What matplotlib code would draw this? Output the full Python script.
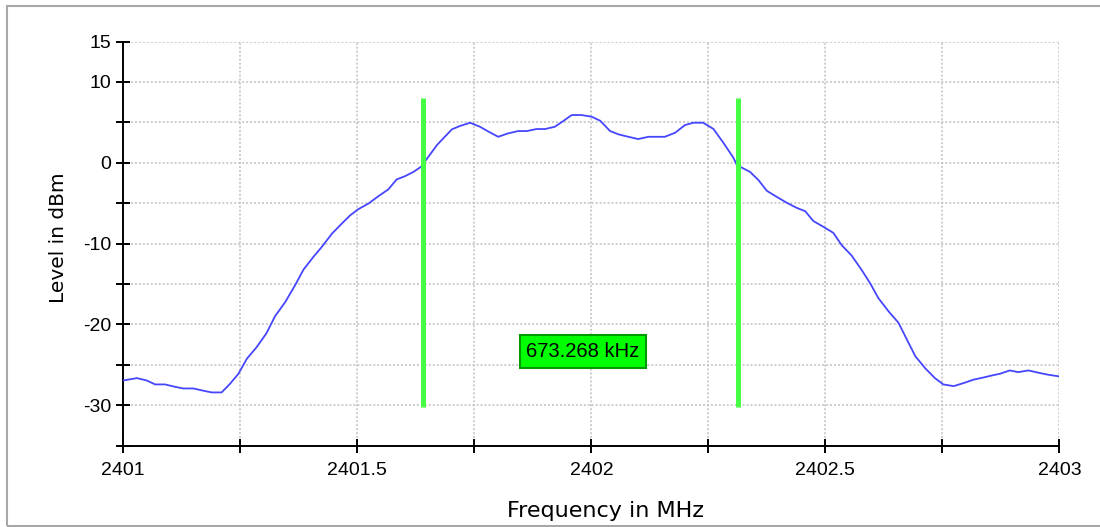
import numpy as np
import matplotlib.pyplot as plt
from matplotlib.patches import Rectangle

# spectrum trace
freq_mhz = [2401.000, 2401.029, 2401.050, 2401.068, 2401.089, 2401.107, 2401.128, 2401.150,
            2401.171, 2401.189, 2401.210, 2401.228, 2401.246, 2401.264, 2401.285, 2401.306,
            2401.324, 2401.346, 2401.367, 2401.385, 2401.406, 2401.424, 2401.446, 2401.467,
            2401.485, 2401.502, 2401.524, 2401.545, 2401.566, 2401.584, 2401.602, 2401.620,
            2401.638, 2401.645, 2401.670, 2401.702, 2401.719, 2401.741, 2401.762, 2401.783,
            2401.801, 2401.822, 2401.844, 2401.862, 2401.883, 2401.901, 2401.922, 2401.940,
            2401.958, 2401.979, 2402.001, 2402.019, 2402.040, 2402.058, 2402.079, 2402.100,
            2402.122, 2402.140, 2402.157, 2402.179, 2402.200, 2402.218, 2402.239, 2402.261,
            2402.282, 2402.303, 2402.311, 2402.339, 2402.357, 2402.375, 2402.396, 2402.418,
            2402.439, 2402.457, 2402.474, 2402.496, 2402.517, 2402.535, 2402.556, 2402.578,
            2402.596, 2402.613, 2402.635, 2402.656, 2402.674, 2402.692, 2402.713, 2402.734,
            2402.752, 2402.774, 2402.795, 2402.816, 2402.838, 2402.856, 2402.873, 2402.894,
            2402.912, 2402.934, 2402.955, 2402.976, 2403.000]
level_dbm = [-26.93, -26.64, -26.93, -27.42, -27.42, -27.67, -27.92, -27.92,
             -28.20, -28.41, -28.41, -27.34, -26.10, -24.24, -22.80, -21.07,
             -19.00, -17.22, -15.15, -13.21, -11.65, -10.41, -8.75, -7.51,
             -6.48, -5.74, -5.03, -4.13, -3.30, -2.06, -1.65, -1.12,
             -0.41, 0.21, 2.19, 4.14, 4.55, 4.96, 4.46, 3.77,
             3.22, 3.64, 3.93, 3.93, 4.18, 4.18, 4.46, 5.17,
             5.91, 5.91, 5.70, 5.20, 3.93, 3.52, 3.22, 2.94,
             3.22, 3.22, 3.22, 3.72, 4.67, 4.96, 4.96, 4.18,
             2.48, 0.67, -0.29, -1.12, -2.14, -3.47, -4.21, -4.96,
             -5.58, -5.99, -7.19, -7.93, -8.67, -10.20, -11.47, -13.30,
             -14.94, -16.73, -18.38, -19.78, -21.85, -23.92, -25.40, -26.64,
             -27.42, -27.63, -27.26, -26.84, -26.56, -26.31, -26.10, -25.69,
             -25.90, -25.69, -25.97, -26.22, -26.43]

# bandwidth markers
marker_freqs = [2401.641, 2402.314268]
marker_bottom = -30.2
marker_top = 8.0
bw_label = '673.268 kHz'
bw_label_pos = (2401.982, -23.35)

xticks = [2401, 2401.25, 2401.5, 2401.75, 2402, 2402.25, 2402.5, 2402.75, 2403]
xticklabels = ['2401', '', '2401.5', '', '2402', '', '2402.5', '', '2403']
yticks = [15, 10, 5, 0, -5, -10, -15, -20, -25, -30, -35]
yticklabels = ['15', '10', '', '0', '', '-10', '', '-20', '', '-30', '']

fig = plt.figure(figsize=(11, 5.27), dpi=100)
ax = fig.add_axes([0.1121, 0.1543, 0.851, 0.7668])

ax.plot(freq_mhz, level_dbm, color='#4646FF', lw=1.3, zorder=3)
ax.vlines(marker_freqs, marker_bottom, marker_top, color='#44FF44', lw=3.6, zorder=4)
ax.text(bw_label_pos[0], bw_label_pos[1], bw_label, ha='center', va='center',
        fontsize=14.5, family=['Liberation Sans', 'DejaVu Sans'], zorder=5,
        bbox=dict(boxstyle='square,pad=0.33', fc='#00FF00', ec='#009900', lw=1.5))

ax.set_xlim(2401, 2403)
ax.set_ylim(-35, 15)
ax.set_xticks(xticks)
ax.set_xticklabels(xticklabels)
ax.set_yticks(yticks)
ax.set_yticklabels(yticklabels)

for lab in ax.get_xticklabels() + ax.get_yticklabels():
    lab.set_family(['Liberation Sans', 'DejaVu Sans'])
    lab.set_fontsize(14)

ax.tick_params(axis='both', direction='inout', length=10, width=1.4, color='black')
ax.tick_params(axis='x', pad=6.5)
ax.tick_params(axis='y', pad=3.6)

ax.grid(True, color='#C0C0C0', lw=1.1, linestyle=(0, (1.3, 1.3)), zorder=0)
ax.set_axisbelow(True)

for s in ['top', 'right']:
    ax.spines[s].set_visible(False)
for s in ['left', 'bottom']:
    ax.spines[s].set_linewidth(1.4)

ax.set_ylabel('Level in dBm', fontsize=14.5)
ax.yaxis.set_label_coords(-0.059, 0.515)
ax.set_xlabel('Frequency in MHz', fontsize=16)
ax.xaxis.set_label_coords(0.5146, -0.137)

# window frame (left, top and bottom edges only)
fig.add_artist(Rectangle((7 / 1100, 1 - 526 / 527), 1.2, 520 / 527, transform=fig.transFigure,
                         fill=False, ec='#A8A8A8', lw=1.5, clip_on=False))

fig.savefig('out.png', dpi=100)
